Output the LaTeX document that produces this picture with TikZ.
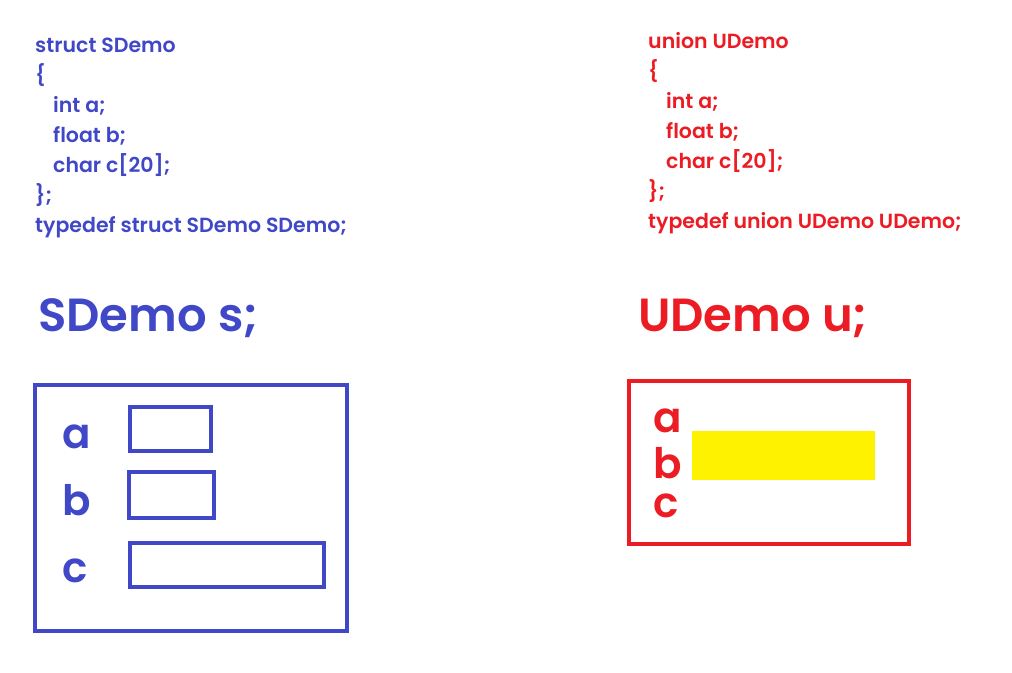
\documentclass[tikz,border=0pt]{standalone}
\usepackage{fontspec}
\setmainfont{Poppins}[BoldFont={Poppins SemiBold}]
\definecolor{sblue}{RGB}{64,72,200}
\definecolor{ured}{RGB}{236,28,36}
\definecolor{uyellow}{RGB}{255,242,0}
\begin{document}
\begin{tikzpicture}[x=1pt,y=-1pt,
  code/.style={anchor=base west,inner sep=0pt,font=\fontsize{20.5}{20.5}\selectfont\bfseries},
  title/.style={anchor=base west,inner sep=0pt,font=\fontsize{46.5}{46.5}\selectfont\bfseries},
  member/.style={anchor=base west,inner sep=0pt,font=\fontsize{42}{42}\selectfont\bfseries},
  frame/.style={draw,line width=4pt},
]
\useasboundingbox (0,0) rectangle (1012,672);

% struct declaration
\begin{scope}[color=sblue]
\node[code] (s1) at (35,52)  {struct SDemo};
\node[code] (s2) at (35,82)  {\{};
\node[code] (s3) at (53,112) {int a;};
\node[code] (s4) at (53,142) {float b;};
\node[code] (s5) at (53,172) {char c[20];};
\node[code] (s6) at (35,202) {\};};
\node[code] (s7) at (35,232) {typedef struct SDemo SDemo;};

\node[title] (stitle) at (38,331) {SDemo s;};

% struct layout: every member has its own storage
\draw[frame] (35,385) rectangle (347,631);
\node[member] (la) at (62,448) {a};
\node[member] (lb) at (62,515) {b};
\node[member] (lc) at (62,582) {c};
\draw[frame] (130,407) rectangle (211,451);
\draw[frame] (129,472) rectangle (214,518);
\draw[frame] (130,543) rectangle (324,587);
\end{scope}

% union declaration
\begin{scope}[color=ured]
\node[code] (u1) at (648,48)  {union UDemo};
\node[code] (u2) at (648,78)  {\{};
\node[code] (u3) at (666,108) {int a;};
\node[code] (u4) at (666,138) {float b;};
\node[code] (u5) at (666,168) {char c[20];};
\node[code] (u6) at (648,198) {\};};
\node[code] (u7) at (648,228) {typedef union UDemo UDemo;};

\node[title] (utitle) at (638,331) {UDemo u;};

% union layout: all members share one storage block
\draw[frame] (629,381) rectangle (909,544);
\node[member] (ua) at (653,432) {a};
\node[member] (ub) at (653,478) {b};
\node[member] (uc) at (653,517) {c};
\fill[uyellow] (692,431) rectangle (875,480);
\end{scope}
\end{tikzpicture}
\end{document}
